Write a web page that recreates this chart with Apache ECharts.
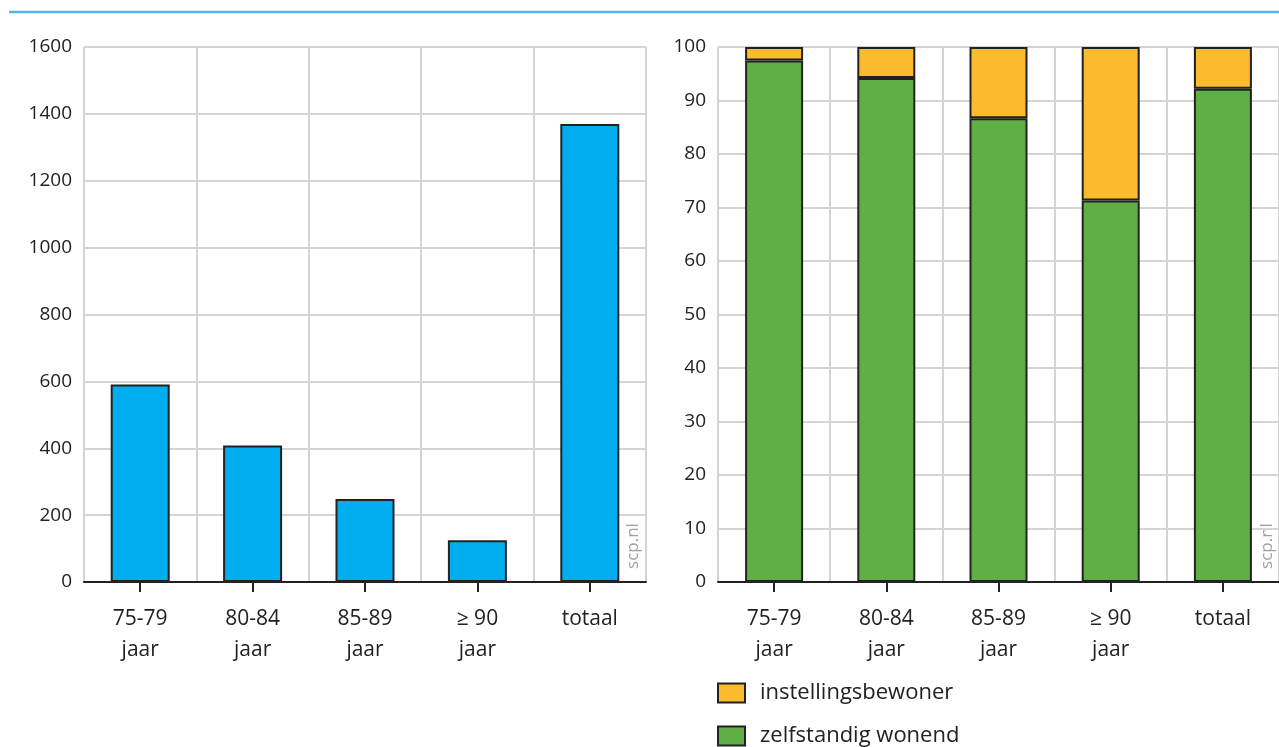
<!DOCTYPE html>
<html>
<head>
<meta charset="utf-8">
<script src="https://cdn.jsdelivr.net/npm/echarts@6/dist/echarts.min.js"></script>
<style>
html,body{margin:0;padding:0;background:#fff;}
#chart{width:1279px;height:747px;}
</style>
</head>
<body>
<div id="chart"></div>
<script>
const categories = ['75-79\njaar', '80-84\njaar', '85-89\njaar', '≥ 90\njaar', 'totaal'];
const counts = [591, 408, 248, 125, 1370];
const zelfstandigWonend = [97.5, 94.2, 86.7, 71.3, 92.2];
const instellingsbewoner = [2.5, 5.8, 13.3, 28.7, 7.8];
const leftTicks = { min: 0, max: 1600, interval: 200 };
const rightTicks = { min: 0, max: 100, interval: 10 };

const FONT = '"Open Sans", "DejaVu Sans", sans-serif';
const TXT = '#222';
const GRID = '#d4d4d4';
const BORDER = '#222';

const chart = echarts.init(document.getElementById('chart'), null, { renderer: 'canvas' });

function xAxis(gridIndex) {
  return {
    type: 'category', gridIndex, data: categories,
    axisLine: { show: true, lineStyle: { color: '#222', width: 2 } },
    axisTick: { show: true, alignWithLabel: true, length: 10, lineStyle: { color: '#222', width: 2 } },
    splitLine: { show: true, lineStyle: { color: GRID, width: 2 } },
    axisLabel: { color: TXT, fontFamily: FONT, fontSize: 21, lineHeight: 31, margin: 22 }
  };
}
function yAxis(gridIndex, t) {
  return {
    type: 'value', gridIndex, min: t.min, max: t.max, interval: t.interval,
    axisLine: { show: false }, axisTick: { show: false },
    splitLine: { show: true, lineStyle: { color: GRID, width: 2 } },
    axisLabel: { color: TXT, fontFamily: FONT, fontSize: 19, margin: 12, formatter: v => String(v) }
  };
}
function legend(name, top) {
  return {
    orient: 'vertical', left: 717, top: top, padding: 0,
    icon: 'rect', itemWidth: 27, itemHeight: 19,
    data: [name],
    textStyle: { color: TXT, fontFamily: FONT, fontSize: 22, padding: [0, 0, 0, 10] },
    itemStyle: { borderColor: BORDER, borderWidth: 2 }
  };
}

chart.setOption({
  animation: false,
  grid: [
    { left: 84, top: 47, width: 562, height: 535 },
    { left: 718, top: 47, width: 562, height: 535 }
  ],
  xAxis: [xAxis(0), xAxis(1)],
  yAxis: [yAxis(0, leftTicks), yAxis(1, rightTicks)],
  legend: [legend('instellingsbewoner', 682), legend('zelfstandig wonend', 725)],
  series: [
    {
      type: 'bar', xAxisIndex: 0, yAxisIndex: 0, data: counts, barWidth: 59,
      itemStyle: { color: '#00aeef', borderColor: BORDER, borderWidth: 2 }
    },
    {
      name: 'zelfstandig wonend', type: 'bar', stack: 'p', xAxisIndex: 1, yAxisIndex: 1,
      data: zelfstandigWonend, barWidth: 58,
      itemStyle: { color: '#5fae46', borderColor: BORDER, borderWidth: 2 }
    },
    {
      name: 'instellingsbewoner', type: 'bar', stack: 'p', xAxisIndex: 1, yAxisIndex: 1,
      data: instellingsbewoner, barWidth: 58,
      itemStyle: { color: '#fbbb2e', borderColor: BORDER, borderWidth: 2 }
    }
  ],
  graphic: [
    { type: 'line', shape: { x1: 9, y1: 12, x2: 1279, y2: 12 }, style: { stroke: '#5ab4e2', lineWidth: 2.5 } },
    { type: 'text', x: 633, y: 546, rotation: Math.PI / 2,
      style: { text: 'scp.nl', fill: '#a0a0a0', font: '17px ' + FONT, align: 'center', verticalAlign: 'middle' } },
    { type: 'text', x: 1267, y: 546, rotation: Math.PI / 2,
      style: { text: 'scp.nl', fill: '#a0a0a0', font: '17px ' + FONT, align: 'center', verticalAlign: 'middle' } }
  ]
});
</script>
</body>
</html>
